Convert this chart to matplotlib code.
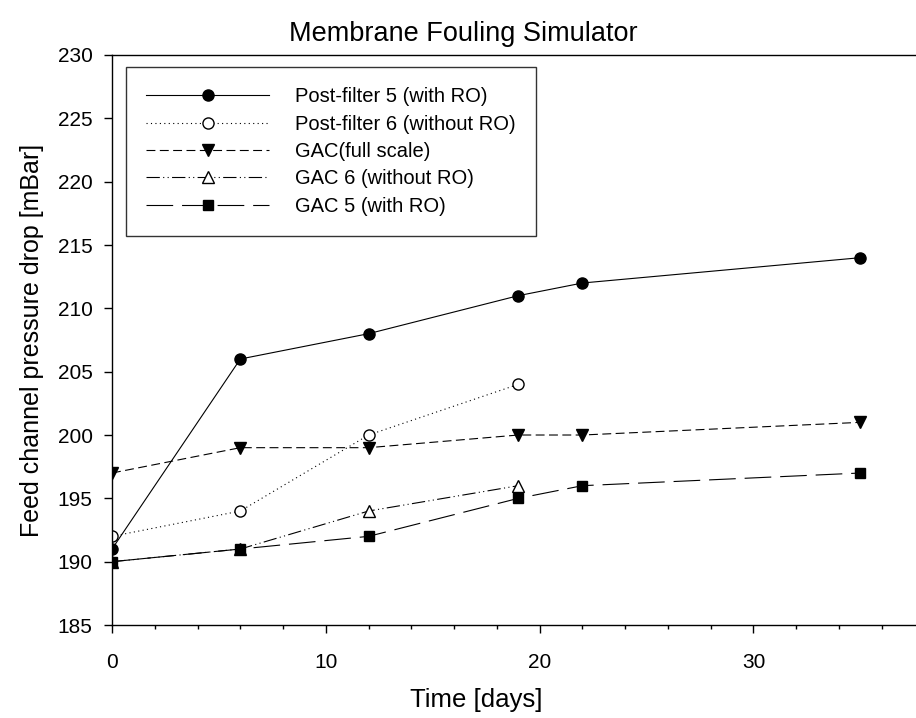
import matplotlib
matplotlib.use('Agg')
import matplotlib.pyplot as plt
from matplotlib.ticker import MultipleLocator

plt.rcParams['font.family'] = ['Liberation Sans', 'DejaVu Sans']

# --- datos ---
dias_largo = [0, 6, 12, 19, 22, 35]
dias_corto = [0, 6, 12, 19]

post_filter_5 = [191, 206, 208, 211, 212, 214]
post_filter_6 = [192, 194, 200, 204]
gac_full = [197, 199, 199, 200, 200, 201]
gac_6 = [190, 191, 194, 196]
gac_5 = [190, 191, 192, 195, 196, 197]

etiquetas = [
    'Post-filter 5 (with RO)',
    'Post-filter 6 (without RO)',
    'GAC(full scale)',
    'GAC 6 (without RO)',
    'GAC 5 (with RO)',
]

fig = plt.figure(figsize=(9.16, 7.18), dpi=100)
ax = fig.add_axes([0.1223, 0.1295, 0.8777, 0.7939])

lw = 0.8
ms = 8
ax.plot(dias_largo, post_filter_5, color='black', lw=lw, ls='-',
        marker='o', ms=ms, mfc='black', mec='black', label=etiquetas[0])
ax.plot(dias_corto, post_filter_6, color='black', lw=lw, ls=(0, (1, 3)),
        marker='o', ms=ms, mfc='white', mec='black', label=etiquetas[1])
ax.plot(dias_largo, gac_full, color='black', lw=lw, ls=(0, (8, 4)),
        marker='v', ms=ms, mfc='black', mec='black', label=etiquetas[2])
ax.plot(dias_corto, gac_6, color='black', lw=lw, ls=(0, (12, 3, 1, 3, 1, 3)),
        marker='^', ms=ms, mfc='white', mec='black', label=etiquetas[3])
ax.plot(dias_largo, gac_5, color='black', lw=lw, ls=(0, (24, 8)),
        marker='s', ms=ms - 1, mfc='black', mec='black', label=etiquetas[4])

ax.set_xlim(0, 37.6)
ax.set_ylim(185, 230)
ax.xaxis.set_major_locator(MultipleLocator(10))
ax.xaxis.set_minor_locator(MultipleLocator(2))
ax.yaxis.set_major_locator(MultipleLocator(5))

ax.spines['right'].set_visible(False)
for s in ['left', 'bottom', 'top']:
    ax.spines[s].set_linewidth(1.0)

ax.tick_params(which='major', direction='out', length=6, width=1,
               labelsize=15, pad=8)
ax.tick_params(which='minor', direction='out', length=3, width=1)
ax.tick_params(axis='x', pad=14)

ax.set_title('Membrane Fouling Simulator', fontsize=19.5, pad=10, x=0.437)
ax.set_xlabel('Time [days]', fontsize=18.5, labelpad=12, x=0.453)
ax.set_ylabel('Feed channel pressure drop [mBar]', fontsize=18, labelpad=10)

leg = ax.legend(loc='upper left', bbox_to_anchor=(0.0174, 0.979),
                borderaxespad=0, fontsize=14.5, handlelength=6.1,
                handletextpad=1.3, labelspacing=0.42, borderpad=1.0,
                fancybox=False, frameon=True, edgecolor='black')
leg.get_frame().set_linewidth(1.0)

plt.savefig('out.png', dpi=100)
